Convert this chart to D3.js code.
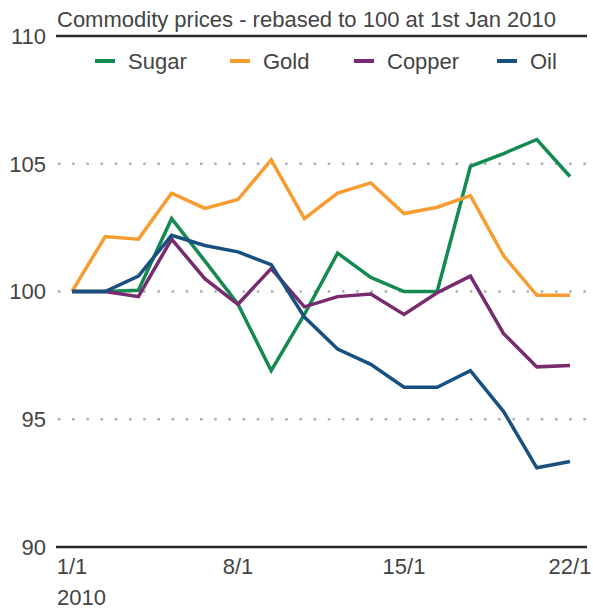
<!DOCTYPE html>
<html><head><meta charset="utf-8">
<script src="https://cdn.jsdelivr.net/npm/d3@7"></script>
<style>body{margin:0;background:#fff;}svg{display:block;font-family:"Liberation Sans",Arial,sans-serif;}</style>
</head><body>
<script>
const dates = ["1/1","4/1","5/1","6/1","7/1","8/1","11/1","12/1","13/1","14/1","15/1","18/1","19/1","20/1","21/1","22/1"];
const tickLabels = ["1/1","8/1","15/1","22/1"];
const yTicks = [90,95,100,105,110];
const seriesNames = ["Sugar","Gold","Copper","Oil"];
const seriesColors = ["#128a50","#f89c32","#792b6f","#185180"];
const sugar  = [100,100,100.05,102.85,101.2,99.5,96.9,99.1,101.5,100.55,100,100,104.9,105.4,105.95,104.5];
const gold   = [100,102.15,102.05,103.85,103.25,103.6,105.15,102.85,103.85,104.25,103.05,103.3,103.75,101.4,99.85,99.85];
const copper = [100,100,99.8,102.05,100.5,99.5,100.9,99.4,99.8,99.9,99.1,99.95,100.6,98.35,97.05,97.1];
const oil    = [100,100,100.6,102.2,101.8,101.55,101.05,99.0,97.75,97.15,96.25,96.25,96.9,95.3,93.1,93.35];
const seriesValues = [sugar, gold, copper, oil];

const W = 593, H = 612, FS = 22;
const svg = d3.select("body").append("svg").attr("width", W).attr("height", H);

const x = d3.scalePoint().domain(dates).range([72, 570]);
const y = d3.scaleLinear().domain([90,110]).range([547, 36]);
const axisLeft = 56, axisRight = 587;

// gridlines (dotted) for interior ticks
svg.append("g").selectAll("line").data(yTicks.filter(d => d > 90 && d < 110)).join("line")
  .attr("x1", 58).attr("x2", axisRight)
  .attr("y1", d => y(d)).attr("y2", d => y(d))
  .attr("stroke", "#b0b0b0").attr("stroke-width", 2.5).attr("stroke-dasharray", "2.5,11.7");

// top and bottom solid lines
svg.append("g").selectAll("line").data([90,110]).join("line")
  .attr("x1", axisLeft).attr("x2", axisRight)
  .attr("y1", d => y(d)).attr("y2", d => y(d))
  .attr("stroke", "#2a2a2a").attr("stroke-width", 2.5);

// y labels
svg.append("g").selectAll("text").data(yTicks).join("text")
  .attr("x", 46).attr("y", d => y(d)).attr("dy", "0.36em")
  .attr("text-anchor", "end").attr("font-size", FS).attr("fill", "#444")
  .text(d => d);

// x labels
svg.append("g").selectAll("text").data(tickLabels).join("text")
  .attr("x", d => x(d)).attr("y", 574)
  .attr("text-anchor", "middle").attr("font-size", FS).attr("fill", "#444")
  .text(d => d);
svg.append("text").attr("x", 57).attr("y", 605).attr("font-size", FS).attr("fill", "#444").text("2010");

// title
svg.append("text").attr("x", 57).attr("y", 27).attr("font-size", FS).attr("fill", "#444")
  .text("Commodity prices - rebased to 100 at 1st Jan 2010");

// lines
const line = d3.line().x((d,i) => x(dates[i])).y(d => y(d));
svg.append("g").selectAll("path").data(seriesValues).join("path")
  .attr("d", d => line(d)).attr("fill", "none")
  .attr("stroke", (d,i) => seriesColors[i]).attr("stroke-width", 3.5)
  .attr("stroke-linejoin", "miter").attr("stroke-linecap", "butt");

// legend
const legX = [128, 263, 387, 530];
const lg = svg.append("g").selectAll("g").data(seriesNames).join("g");
lg.append("line").attr("x1", (d,i) => legX[i]-33).attr("x2", (d,i) => legX[i]-13)
  .attr("y1", 61).attr("y2", 61).attr("stroke", (d,i) => seriesColors[i]).attr("stroke-width", 4);
lg.append("text").attr("x", (d,i) => legX[i]).attr("y", 68.5).attr("font-size", FS).attr("fill", "#444").text(d => d);
</script>
</body></html>
